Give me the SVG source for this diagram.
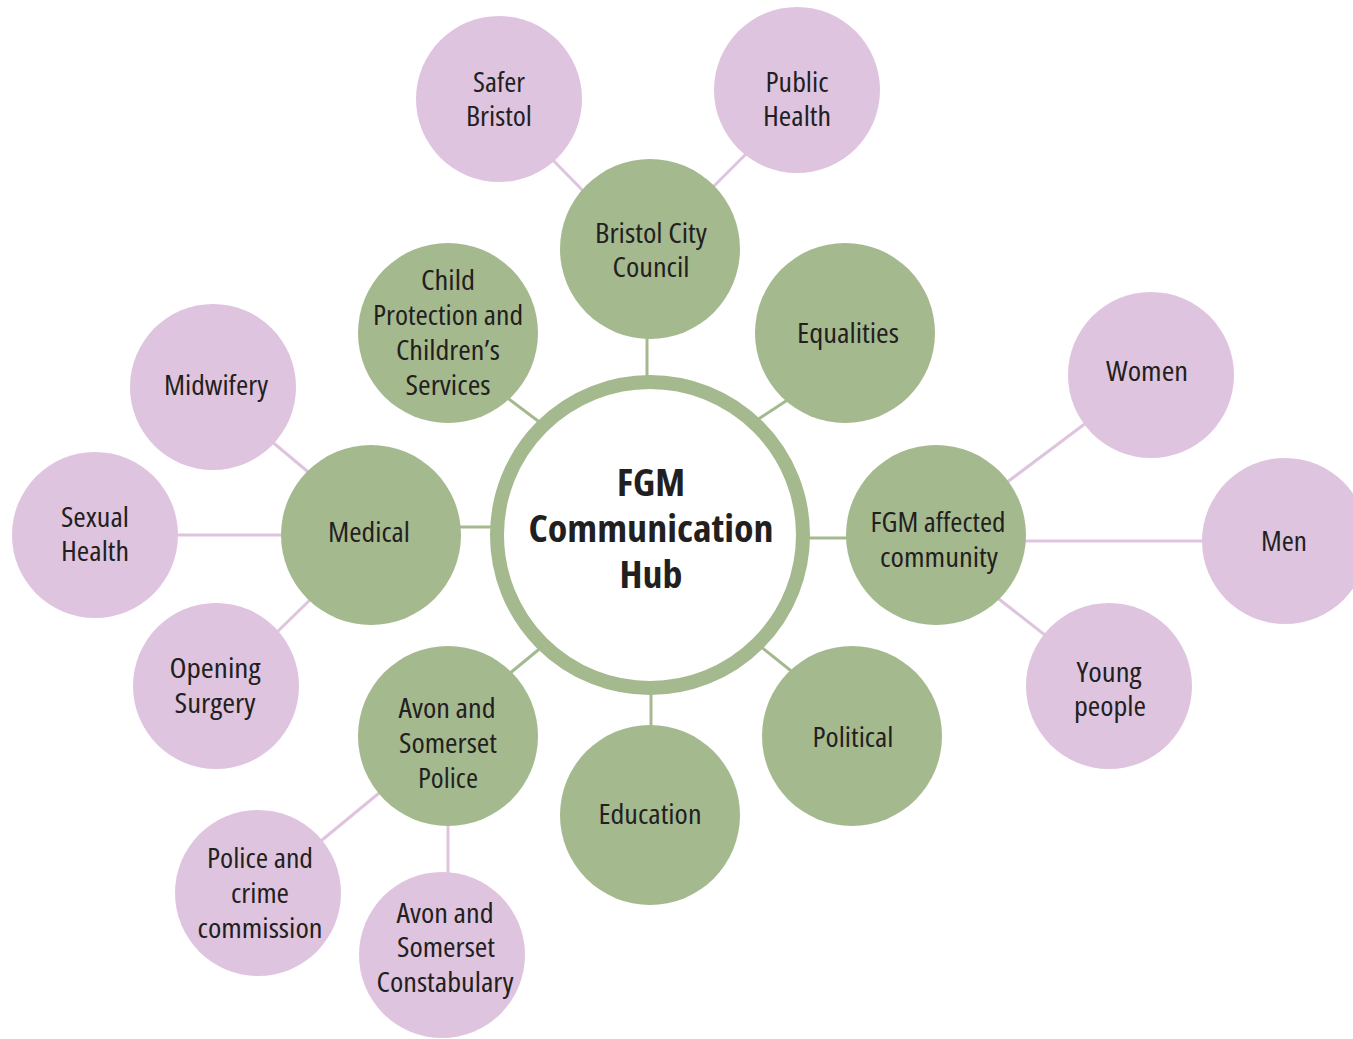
<svg xmlns="http://www.w3.org/2000/svg" width="1353" height="1039" viewBox="0 0 1353 1039">
<style>
.g{fill:#a5b98f}
.p{fill:#dfc4df}
.lg{stroke:#a5b98f;stroke-width:3;fill:none}
.lp{stroke:#dfc4df;stroke-width:3;fill:none}
text{font-family:"Open Sans","Liberation Sans",sans-serif;font-size:28px;fill:#231f20;text-anchor:middle;font-stretch:condensed}
.hub{font-weight:bold;font-size:37px}
</style>
<rect width="1353" height="1039" fill="#ffffff"/>
<g id="connectors">
<line class="lg" x1="647" y1="330" x2="647" y2="380"/>
<line class="lg" x1="505" y1="396" x2="542" y2="424"/>
<line class="lg" x1="757" y1="420" x2="792" y2="397"/>
<line class="lg" x1="455" y1="527" x2="495" y2="527"/>
<line class="lg" x1="805" y1="538" x2="850" y2="538"/>
<line class="lg" x1="509" y1="674" x2="543" y2="646"/>
<line class="lg" x1="651" y1="690" x2="651" y2="730"/>
<line class="lg" x1="760" y1="646" x2="795" y2="674"/>
<line class="lp" x1="550" y1="157" x2="588" y2="196"/>
<line class="lp" x1="750" y1="150" x2="710" y2="190"/>
<line class="lp" x1="270" y1="440" x2="313" y2="476"/>
<line class="lp" x1="170" y1="535" x2="290" y2="535"/>
<line class="lp" x1="274" y1="635" x2="314" y2="596"/>
<line class="lp" x1="316" y1="845" x2="384" y2="789"/>
<line class="lp" x1="448" y1="820" x2="448" y2="878"/>
<line class="lp" x1="1002" y1="486" x2="1090" y2="420"/>
<line class="lp" x1="1020" y1="541" x2="1208" y2="541"/>
<line class="lp" x1="995" y1="596" x2="1050" y2="639"/>
</g>
<g id="hub">
<circle cx="650" cy="535" r="153" fill="#ffffff" stroke="#a5b98f" stroke-width="14"/>
<text class="hub" x="651" y="496" textLength="68" lengthAdjust="spacingAndGlyphs">FGM</text>
<text class="hub" x="651" y="542" textLength="245" lengthAdjust="spacingAndGlyphs">Communication</text>
<text class="hub" x="651" y="588" textLength="63" lengthAdjust="spacingAndGlyphs">Hub</text>
</g>
<g id="bristol-city-council">
<circle class="g" cx="650" cy="249" r="90"/>
<text x="651" y="243" textLength="112" lengthAdjust="spacingAndGlyphs">Bristol City</text>
<text x="651" y="277" textLength="77" lengthAdjust="spacingAndGlyphs">Council</text>
</g>
<g id="child-protection">
<circle class="g" cx="448" cy="333" r="90"/>
<text x="448" y="290" textLength="54" lengthAdjust="spacingAndGlyphs">Child</text>
<text x="448" y="325" textLength="150" lengthAdjust="spacingAndGlyphs">Protection and</text>
<text x="448" y="360" textLength="104" lengthAdjust="spacingAndGlyphs">Children’s</text>
<text x="448" y="395" textLength="85" lengthAdjust="spacingAndGlyphs">Services</text>
</g>
<g id="equalities">
<circle class="g" cx="845" cy="333" r="90"/>
<text x="848" y="343" textLength="102" lengthAdjust="spacingAndGlyphs">Equalities</text>
</g>
<g id="medical">
<circle class="g" cx="371" cy="535" r="90"/>
<text x="369" y="542" textLength="82" lengthAdjust="spacingAndGlyphs">Medical</text>
</g>
<g id="fgm-affected-community">
<circle class="g" cx="936" cy="535" r="90"/>
<text x="938" y="532" textLength="135" lengthAdjust="spacingAndGlyphs">FGM affected</text>
<text x="939" y="567" textLength="118" lengthAdjust="spacingAndGlyphs">community</text>
</g>
<g id="avon-somerset-police">
<circle class="g" cx="448" cy="736" r="90"/>
<text x="447" y="718" textLength="97" lengthAdjust="spacingAndGlyphs">Avon and</text>
<text x="448" y="753" textLength="98" lengthAdjust="spacingAndGlyphs">Somerset</text>
<text x="448" y="788" textLength="60" lengthAdjust="spacingAndGlyphs">Police</text>
</g>
<g id="education">
<circle class="g" cx="650" cy="815" r="90"/>
<text x="650" y="824" textLength="103" lengthAdjust="spacingAndGlyphs">Education</text>
</g>
<g id="political">
<circle class="g" cx="852" cy="736" r="90"/>
<text x="853" y="747" textLength="81" lengthAdjust="spacingAndGlyphs">Political</text>
</g>
<g id="safer-bristol">
<circle class="p" cx="499" cy="99" r="83"/>
<text x="499" y="92" textLength="52" lengthAdjust="spacingAndGlyphs">Safer</text>
<text x="499" y="126" textLength="66" lengthAdjust="spacingAndGlyphs">Bristol</text>
</g>
<g id="public-health">
<circle class="p" cx="797" cy="90" r="83"/>
<text x="797" y="92" textLength="63" lengthAdjust="spacingAndGlyphs">Public</text>
<text x="797" y="126" textLength="68" lengthAdjust="spacingAndGlyphs">Health</text>
</g>
<g id="midwifery">
<circle class="p" cx="213" cy="387" r="83"/>
<text x="216" y="395" textLength="104" lengthAdjust="spacingAndGlyphs">Midwifery</text>
</g>
<g id="sexual-health">
<circle class="p" cx="95" cy="535" r="83"/>
<text x="95" y="527" textLength="68" lengthAdjust="spacingAndGlyphs">Sexual</text>
<text x="95" y="561" textLength="68" lengthAdjust="spacingAndGlyphs">Health</text>
</g>
<g id="opening-surgery">
<circle class="p" cx="216" cy="686" r="83"/>
<text x="215" y="678" textLength="91" lengthAdjust="spacingAndGlyphs">Opening</text>
<text x="215" y="713" textLength="81" lengthAdjust="spacingAndGlyphs">Surgery</text>
</g>
<g id="police-crime-commission">
<circle class="p" cx="258" cy="893" r="83"/>
<text x="260" y="868" textLength="106" lengthAdjust="spacingAndGlyphs">Police and</text>
<text x="260" y="903" textLength="58" lengthAdjust="spacingAndGlyphs">crime</text>
<text x="260" y="938" textLength="125" lengthAdjust="spacingAndGlyphs">commission</text>
</g>
<g id="avon-somerset-constabulary">
<circle class="p" cx="442" cy="955" r="83"/>
<text x="445" y="923" textLength="97" lengthAdjust="spacingAndGlyphs">Avon and</text>
<text x="446" y="957" textLength="98" lengthAdjust="spacingAndGlyphs">Somerset</text>
<text x="445" y="992" textLength="137" lengthAdjust="spacingAndGlyphs">Constabulary</text>
</g>
<g id="women">
<circle class="p" cx="1151" cy="375" r="83"/>
<text x="1147" y="381" textLength="82" lengthAdjust="spacingAndGlyphs">Women</text>
</g>
<g id="men">
<circle class="p" cx="1285" cy="541" r="83"/>
<text x="1284" y="551" textLength="46" lengthAdjust="spacingAndGlyphs">Men</text>
</g>
<g id="young-people">
<circle class="p" cx="1109" cy="686" r="83"/>
<text x="1109" y="682" textLength="65" lengthAdjust="spacingAndGlyphs">Young</text>
<text x="1110" y="716" textLength="72" lengthAdjust="spacingAndGlyphs">people</text>
</g>
</svg>
